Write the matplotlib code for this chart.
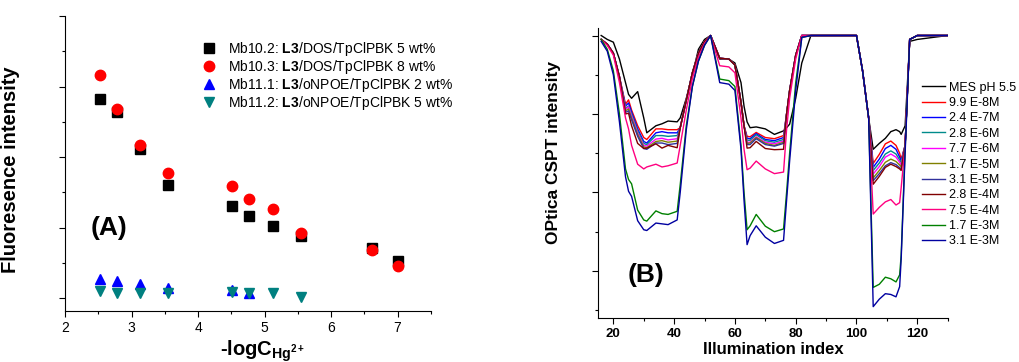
import matplotlib
matplotlib.use("Agg")
import matplotlib.pyplot as plt
from matplotlib.ticker import MultipleLocator

plt.rcParams['font.family'] = ['Liberation Sans', 'DejaVu Sans']
plt.rcParams['mathtext.fontset'] = 'custom'
plt.rcParams['mathtext.rm'] = 'Liberation Sans'
plt.rcParams['mathtext.bf'] = 'Liberation Sans:bold'

# ---- panel A: fluorescence vs -logC(Hg2+) ----
logc_dos = [2.52, 2.78, 3.12, 3.55, 4.51, 4.77, 5.12, 5.55, 6.61, 7.0]
mb10_2 = [2.82, 2.64, 2.11, 1.61, 1.31, 1.17, 1.03, 0.88, 0.71, 0.53]
mb10_3 = [3.17, 2.68, 2.17, 1.78, 1.59, 1.40, 1.26, 0.93, 0.68, 0.45]
logc_11_1 = [2.52, 2.78, 3.12, 3.55, 4.51, 4.77]
mb11_1 = [0.27, 0.245, 0.20, 0.146, 0.118, 0.07]
logc_11_2 = [2.52, 2.78, 3.12, 3.55, 4.51, 4.77, 5.12, 5.55]
mb11_2 = [0.10, 0.08, 0.08, 0.07, 0.09, 0.08, 0.07, 0.015]
labels_a = ['Mb10.2: $\\mathbf{L3}$/DOS/TpClPBK 5 wt%',
            'Mb10.3: $\\mathbf{L3}$/DOS/TpClPBK 8 wt%',
            'Mb11.1: $\\mathbf{L3}$/oNPOE/TpClPBK 2 wt%',
            'Mb11.2: $\\mathbf{L3}$/oNPOE/TpClPBK 5 wt%']

# ---- panel B: OPtica CSPT intensity vs illumination index ----
idx = [16, 18, 20, 22, 24, 25, 26, 28, 30, 31, 34, 36, 38, 41, 42, 44, 46, 48, 50, 52,
       55, 58, 60, 62, 63, 64, 65, 67, 70, 73, 76, 77, 78, 80, 82, 85,
       100, 102, 104, 105.5, 107.5, 109.5, 111.3, 113, 114.2, 114.7, 116, 117.5, 120, 130]

mes = [1.0, 0.99, 0.983, 0.94, 0.88, 0.85, 0.84, 0.857, 0.79, 0.752, 0.77, 0.775, 0.782, 0.78, 0.79, 0.84, 0.90, 0.965, 0.99, 1.0,
       0.94, 0.94, 0.93, 0.88, 0.82, 0.78, 0.765, 0.767, 0.762, 0.748, 0.757, 0.765, 0.774, 0.84, 0.93, 1.0,
       1.0, 0.91, 0.79, 0.71, 0.725, 0.738, 0.755, 0.76, 0.755, 0.748, 0.77, 0.985, 0.99, 1.0]
c_9_9e8 = [0.99, 0.978, 0.955, 0.895, 0.825, 0.836, 0.81, 0.77, 0.74, 0.735, 0.762, 0.762, 0.76, 0.76, 0.765, 0.835, 0.905, 0.955, 0.985, 1.0,
           0.942, 0.94, 0.925, 0.83, 0.77, 0.743, 0.742, 0.753, 0.74, 0.737, 0.745, 0.80, 0.86, 0.95, 1.0, 1.0,
           1.0, 0.91, 0.79, 0.674, 0.697, 0.724, 0.731, 0.72, 0.70, 0.684, 0.72, 0.99, 1.0, 1.0]
c_2_4e7 = [0.99, 0.978, 0.955, 0.895, 0.82, 0.828, 0.805, 0.762, 0.73, 0.726, 0.752, 0.755, 0.752, 0.752, 0.765, 0.835, 0.905, 0.955, 0.985, 1.0,
           0.942, 0.94, 0.925, 0.83, 0.77, 0.738, 0.737, 0.75, 0.735, 0.732, 0.74, 0.80, 0.86, 0.95, 1.0, 1.0,
           1.0, 0.91, 0.79, 0.664, 0.685, 0.712, 0.72, 0.71, 0.69, 0.68, 0.72, 0.99, 1.0, 1.0]
c_2_8e6 = [0.99, 0.978, 0.955, 0.895, 0.815, 0.82, 0.80, 0.757, 0.725, 0.722, 0.745, 0.745, 0.743, 0.745, 0.765, 0.835, 0.905, 0.955, 0.985, 1.0,
           0.942, 0.94, 0.925, 0.83, 0.77, 0.733, 0.733, 0.747, 0.732, 0.728, 0.735, 0.80, 0.86, 0.95, 1.0, 1.0,
           1.0, 0.91, 0.79, 0.656, 0.675, 0.698, 0.706, 0.698, 0.683, 0.676, 0.72, 0.99, 1.0, 1.0]
c_7_7e6 = [0.99, 0.978, 0.955, 0.895, 0.812, 0.818, 0.795, 0.752, 0.72, 0.718, 0.736, 0.738, 0.734, 0.737, 0.765, 0.835, 0.905, 0.955, 0.985, 1.0,
           0.942, 0.94, 0.925, 0.83, 0.77, 0.728, 0.728, 0.742, 0.728, 0.724, 0.731, 0.80, 0.86, 0.95, 1.0, 1.0,
           1.0, 0.91, 0.79, 0.647, 0.666, 0.69, 0.698, 0.69, 0.677, 0.67, 0.72, 0.99, 1.0, 1.0]
c_1_7e5 = [0.99, 0.978, 0.955, 0.895, 0.808, 0.813, 0.79, 0.748, 0.716, 0.714, 0.73, 0.732, 0.728, 0.731, 0.765, 0.835, 0.905, 0.955, 0.985, 1.0,
           0.942, 0.94, 0.925, 0.83, 0.77, 0.725, 0.726, 0.74, 0.725, 0.72, 0.728, 0.80, 0.86, 0.95, 1.0, 1.0,
           1.0, 0.91, 0.79, 0.637, 0.656, 0.677, 0.685, 0.679, 0.67, 0.665, 0.72, 0.99, 1.0, 1.0]
c_3_1e5 = [0.99, 0.978, 0.955, 0.895, 0.804, 0.808, 0.785, 0.743, 0.712, 0.71, 0.726, 0.726, 0.722, 0.725, 0.765, 0.835, 0.905, 0.955, 0.985, 1.0,
           0.942, 0.94, 0.925, 0.83, 0.77, 0.722, 0.722, 0.737, 0.722, 0.718, 0.725, 0.80, 0.86, 0.95, 1.0, 1.0,
           1.0, 0.91, 0.79, 0.63, 0.648, 0.668, 0.676, 0.671, 0.663, 0.659, 0.72, 0.99, 1.0, 1.0]
c_2_8e4 = [0.99, 0.978, 0.955, 0.895, 0.80, 0.802, 0.77, 0.725, 0.712, 0.713, 0.724, 0.713, 0.72, 0.714, 0.765, 0.835, 0.905, 0.955, 0.985, 1.0,
           0.942, 0.94, 0.925, 0.83, 0.77, 0.713, 0.714, 0.73, 0.712, 0.709, 0.71, 0.80, 0.86, 0.95, 1.0, 1.0,
           1.0, 0.91, 0.79, 0.621, 0.641, 0.664, 0.672, 0.666, 0.66, 0.656, 0.72, 0.99, 1.0, 1.0]
c_7_5e4 = [0.99, 0.975, 0.95, 0.88, 0.79, 0.762, 0.72, 0.672, 0.66, 0.665, 0.672, 0.665, 0.668, 0.675, 0.72, 0.81, 0.89, 0.945, 0.98, 1.0,
           0.923, 0.92, 0.905, 0.79, 0.71, 0.658, 0.662, 0.68, 0.66, 0.648, 0.652, 0.76, 0.84, 0.94, 1.0, 1.0,
           1.0, 0.91, 0.79, 0.545, 0.562, 0.576, 0.582, 0.568, 0.574, 0.612, 0.72, 0.99, 1.0, 1.0]
c_1_7e3 = [0.99, 0.965, 0.91, 0.80, 0.66, 0.633, 0.622, 0.555, 0.53, 0.527, 0.553, 0.546, 0.544, 0.552, 0.62, 0.77, 0.87, 0.935, 0.975, 1.0,
           0.889, 0.885, 0.87, 0.72, 0.60, 0.505, 0.515, 0.544, 0.514, 0.50, 0.507, 0.60, 0.70, 0.88, 0.995, 1.0,
           1.0, 0.91, 0.79, 0.358, 0.366, 0.384, 0.38, 0.372, 0.39, 0.44, 0.71, 0.99, 1.0, 1.0]
c_3_1e3 = [0.985, 0.96, 0.90, 0.78, 0.64, 0.603, 0.59, 0.528, 0.505, 0.503, 0.522, 0.52, 0.518, 0.53, 0.60, 0.76, 0.87, 0.935, 0.975, 1.0,
           0.88, 0.876, 0.86, 0.71, 0.58, 0.467, 0.49, 0.515, 0.486, 0.47, 0.478, 0.58, 0.68, 0.86, 0.995, 1.0,
           1.0, 0.91, 0.79, 0.309, 0.328, 0.342, 0.34, 0.334, 0.36, 0.43, 0.70, 0.99, 1.0, 1.0]

series_b = [mes, c_9_9e8, c_2_4e7, c_2_8e6, c_7_7e6, c_1_7e5, c_3_1e5, c_2_8e4, c_7_5e4, c_1_7e3, c_3_1e3]
labels_b = ['MES pH 5.5', '9.9 E-8M', '2.4 E-7M', '2.8 E-6M', '7.7 E-6M', '1.7 E-5M',
            '3.1 E-5M', '2.8 E-4M', '7.5 E-4M', '1.7 E-3M', '3.1 E-3M']
colors_b = ['#000000', '#ff0000', '#0000ff', '#008b8b', '#ff00ff', '#808000',
            '#31319c', '#800000', '#ff0080', '#008000', '#0000a0']

fig = plt.figure(figsize=(10.19, 3.62), dpi=100)

# panel A
ax1 = fig.add_axes([0.0638, 0.141, 0.359, 0.815])
ax1.plot(logc_dos, mb10_2, 's', color='black', ms=7, label=labels_a[0])
ax1.plot(logc_dos, mb10_3, 'o', color='red', ms=7.5, label=labels_a[1])
ax1.plot(logc_11_1, mb11_1, '^', color='blue', ms=7.5, label=labels_a[2])
ax1.plot(logc_11_2, mb11_2, 'v', color='#008080', ms=7.5, label=labels_a[3])
ax1.set_xlim(2, 7.5)
ax1.set_ylim(-0.18, 4.0)
ax1.xaxis.set_major_locator(MultipleLocator(1))
ax1.xaxis.set_minor_locator(MultipleLocator(0.5))
ax1.yaxis.set_major_locator(MultipleLocator(1))
ax1.yaxis.set_minor_locator(MultipleLocator(0.5))
ax1.set_yticklabels([])
ax1.tick_params(which='major', direction='out', length=4, width=0.8, labelsize=10)
ax1.tick_params(which='minor', direction='out', length=2.5, width=0.8)
for s in ['top', 'right']:
    ax1.spines[s].set_visible(False)
ax1.set_ylabel('Fluoresence intensity', fontsize=14.5, fontweight='bold')
ax1.yaxis.set_label_coords(-0.122, 0.478)
ax1.set_xlabel('-logC$_{\\mathbf{Hg}^{\\mathbf{2+}}}$', fontsize=14.5, fontweight='bold')
ax1.xaxis.set_label_coords(0.54, -0.093)
ax1.text(0.07, 0.28, '(A)', transform=ax1.transAxes, fontsize=19, fontweight='bold',
         ha='left', va='center')
ax1.legend(loc='upper left', bbox_to_anchor=(0.355, 0.92), frameon=False, fontsize=10,
           borderaxespad=0, borderpad=0, handlelength=2.0, handletextpad=0.4,
           labelspacing=0.0, numpoints=1)

# panel B
ax2 = fig.add_axes([0.587, 0.1215, 0.343, 0.801])
for ys, lab, col in zip(series_b, labels_b, colors_b):
    ax2.plot(idx, ys, '-', color=col, lw=1.0, label=lab)
ax2.set_xlim(15, 130)
ax2.set_ylim(0.28, 1.019)
ax2.xaxis.set_major_locator(MultipleLocator(20))
ax2.xaxis.set_minor_locator(MultipleLocator(10))
ax2.yaxis.set_major_locator(MultipleLocator(0.2))
ax2.yaxis.set_minor_locator(MultipleLocator(0.1))
ax2.set_yticklabels([])
ax2.tick_params(which='major', direction='out', length=4, width=0.8, labelsize=9.5)
ax2.tick_params(which='minor', direction='out', length=2.5, width=0.8)
for lab in ax2.get_xticklabels():
    lab.set_fontweight('bold')
for s in ['top', 'right']:
    ax2.spines[s].set_visible(False)
ax2.set_xlabel('Illumination index', fontsize=12, fontweight='bold', labelpad=1)
ax2.set_ylabel('OPtica CSPT intensity', fontsize=12.5, fontweight='bold')
ax2.yaxis.set_label_coords(-0.107, 0.571)
ax2.text(0.085, 0.15, '(B)', transform=ax2.transAxes, fontsize=19, fontweight='bold',
         ha='left', va='center')
ax2.legend(loc='upper left', bbox_to_anchor=(0.9256, 0.815), frameon=False, fontsize=9,
           borderaxespad=0, borderpad=0, handlelength=1.9, handletextpad=0.25,
           labelspacing=0.27)

fig.savefig('out.png', dpi=100)
